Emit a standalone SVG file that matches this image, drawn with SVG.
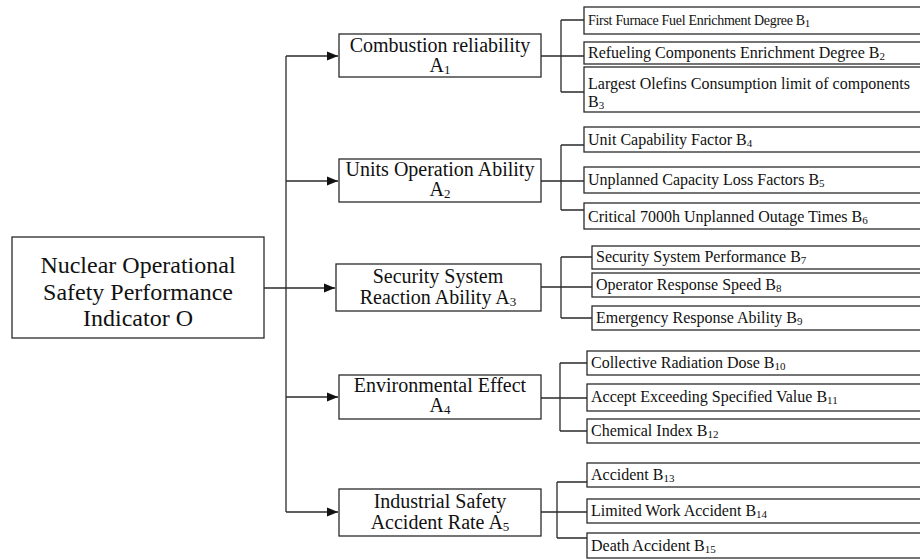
<svg xmlns="http://www.w3.org/2000/svg" width="920" height="560" viewBox="0 0 920 560">
<style>
rect{fill:#fff;stroke:#2a2a2a;stroke-width:1.3}
.t{font-family:"Liberation Serif","Times New Roman",serif;fill:#111}
.r{font-size:24px;text-anchor:middle}
.a{font-size:20px;text-anchor:middle}
.b{font-size:16px}
.b1{font-size:14px;letter-spacing:-0.3px}
.s{font-size:11px;letter-spacing:0}
.sa{font-size:13px}
#connectors path{fill:none;stroke:#2a2a2a;stroke-width:1.3}
</style>
<defs>
<marker id="arr" markerUnits="userSpaceOnUse" markerWidth="11" markerHeight="10" refX="11" refY="5" orient="auto">
<path d="M0,0.5 L11,5 L0,9.5 z" fill="#111"/>
</marker>
</defs>
<g id="connectors">
<path d="M286,56 V512"/>
<path d="M264,288 H335" marker-end="url(#arr)"/>
<path d="M286,56 H338" marker-end="url(#arr)"/>
<path d="M286,181 H338" marker-end="url(#arr)"/>
<path d="M286,397 H338" marker-end="url(#arr)"/>
<path d="M286,512 H338" marker-end="url(#arr)"/>
<path d="M541,56 H561 M561,20 V92 M561,20 H584 M561,56 H584 M561,92 H584"/>
<path d="M541,181 H561 M561,145 V210 M561,145 H584 M561,181 H584 M561,210 H584"/>
<path d="M541,287 H561 M561,257 V318 M561,257 H592 M561,287 H592 M561,318 H592"/>
<path d="M541,398 H560 M560,363 V431 M560,363 H587 M560,398 H587 M560,431 H587"/>
<path d="M541,512 H557 M557,482 V538 M557,482 H587 M557,512 H587 M557,538 H587"/>
</g>
<g id="O">
<rect x="12" y="237" width="252" height="101"/>
<text class="t r" x="138" y="273">Nuclear Operational</text>
<text class="t r" x="138" y="300">Safety Performance</text>
<text class="t r" x="138" y="326">Indicator O</text>
</g>
<g id="A1">
<rect x="339" y="34" width="202" height="43"/>
<text class="t a" x="440" y="52">Combustion reliability</text>
<text class="t a" x="440" y="72">A<tspan class="sa" dy="2">1</tspan></text>
</g>
<g id="A2">
<rect x="339" y="159" width="202" height="43"/>
<text class="t a" x="440" y="176">Units Operation Ability</text>
<text class="t a" x="440" y="196">A<tspan class="sa" dy="2">2</tspan></text>
</g>
<g id="A3">
<rect x="336" y="264" width="205" height="47"/>
<text class="t a" x="438" y="283">Security System</text>
<text class="t a" x="438" y="304">Reaction Ability A<tspan class="sa" dy="2">3</tspan></text>
</g>
<g id="A4">
<rect x="339" y="375" width="202" height="44"/>
<text class="t a" x="440" y="392">Environmental Effect</text>
<text class="t a" x="440" y="412">A<tspan class="sa" dy="2">4</tspan></text>
</g>
<g id="A5">
<rect x="339" y="489" width="202" height="47"/>
<text class="t a" x="440" y="508">Industrial Safety</text>
<text class="t a" x="440" y="529">Accident Rate A<tspan class="sa" dy="2">5</tspan></text>
</g>
<g id="B1"><rect x="584" y="7" width="345" height="27"/><text class="t b1" x="588" y="25">First Furnace Fuel Enrichment Degree B<tspan class="s" dy="2">1</tspan></text></g>
<g id="B2"><rect x="584" y="42" width="345" height="22"/><text class="t b" x="588" y="58">Refueling Components Enrichment Degree B<tspan class="s" dy="2">2</tspan></text></g>
<g id="B3"><rect x="584" y="67" width="345" height="45"/><text class="t b" x="588" y="89">Largest Olefins Consumption limit of components</text><text class="t b" x="588" y="107">B<tspan class="s" dy="2">3</tspan></text></g>
<g id="B4"><rect x="584" y="127" width="345" height="25"/><text class="t b" x="588" y="145">Unit Capability Factor B<tspan class="s" dy="2">4</tspan></text></g>
<g id="B5"><rect x="584" y="167" width="345" height="26"/><text class="t b" x="588" y="185">Unplanned Capacity Loss Factors B<tspan class="s" dy="2">5</tspan></text></g>
<g id="B6"><rect x="584" y="203" width="345" height="26"/><text class="t b" x="588" y="222">Critical 7000h Unplanned Outage Times B<tspan class="s" dy="2">6</tspan></text></g>
<g id="B7"><rect x="592" y="246" width="340" height="23"/><text class="t b" x="596" y="262">Security System Performance B<tspan class="s" dy="2">7</tspan></text></g>
<g id="B8"><rect x="592" y="273" width="340" height="24"/><text class="t b" x="596" y="290">Operator Response Speed B<tspan class="s" dy="2">8</tspan></text></g>
<g id="B9"><rect x="592" y="306" width="340" height="24"/><text class="t b" x="596" y="323">Emergency Response Ability B<tspan class="s" dy="2">9</tspan></text></g>
<g id="B10"><rect x="587" y="351" width="345" height="24"/><text class="t b" x="591" y="368">Collective Radiation Dose B<tspan class="s" dy="2">10</tspan></text></g>
<g id="B11"><rect x="587" y="384" width="345" height="27"/><text class="t b" x="591" y="402">Accept Exceeding Specified Value B<tspan class="s" dy="2">11</tspan></text></g>
<g id="B12"><rect x="587" y="419" width="345" height="24"/><text class="t b" x="591" y="436">Chemical Index B<tspan class="s" dy="2">12</tspan></text></g>
<g id="B13"><rect x="587" y="463" width="345" height="24"/><text class="t b" x="591" y="480">Accident B<tspan class="s" dy="2">13</tspan></text></g>
<g id="B14"><rect x="587" y="499" width="345" height="24"/><text class="t b" x="591" y="516">Limited Work Accident B<tspan class="s" dy="2">14</tspan></text></g>
<g id="B15"><rect x="587" y="533" width="345" height="25"/><text class="t b" x="591" y="551">Death Accident B<tspan class="s" dy="2">15</tspan></text></g>
</svg>
